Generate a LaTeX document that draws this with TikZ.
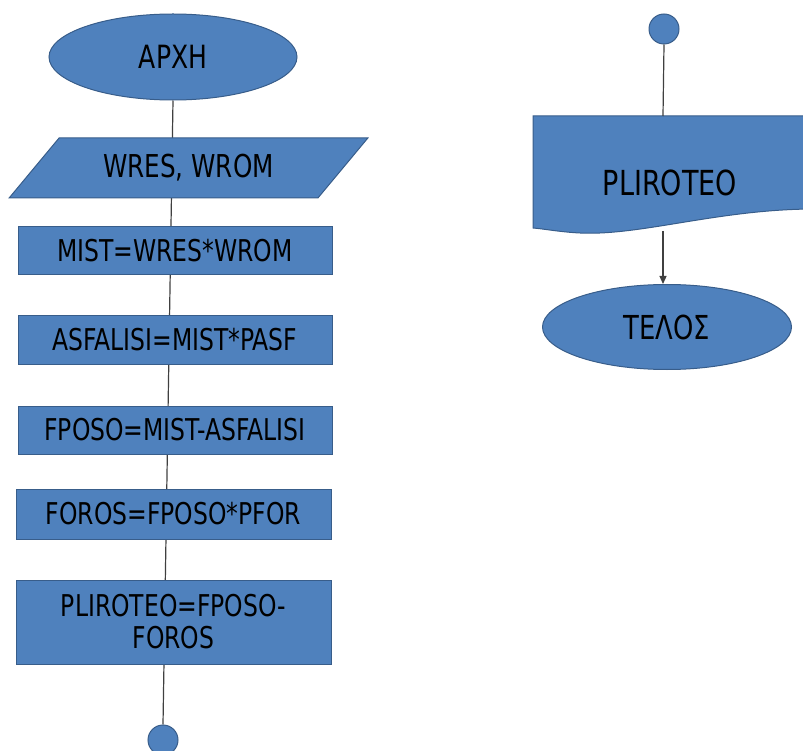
\documentclass[tikz,border=0pt]{standalone}
\usepackage{fontspec}
\setmainfont{DejaVu Sans Condensed}[FakeStretch=0.87]
\usetikzlibrary{shapes.geometric,arrows.meta,backgrounds}
\definecolor{boxfill}{HTML}{4F81BD}
\definecolor{boxline}{HTML}{385D8A}
\tikzset{
  shapebase/.style={draw=boxline, fill=boxfill, line width=1pt, text=black,
    font=\fontsize{30}{32}\selectfont, inner sep=0pt},
  terminal/.style={shapebase, ellipse},
  iobox/.style={shapebase, trapezium, trapezium left angle=39.4, trapezium right angle=140.6,
    trapezium stretches=true},
  procbox/.style={shapebase, rectangle, align=center},
  connector/.style={shapebase, circle, minimum size=30pt},
  flowline/.style={draw=black!75, line width=1.2pt},
}
\begin{document}
\begin{tikzpicture}[x=1pt,y=-1pt]
\useasboundingbox (0,0) rectangle (803,751);
\clip (0,0) rectangle (803,751);
% left column
\node[terminal, minimum width=248pt, minimum height=86pt, font=\fontsize{32}{34}\selectfont] (start) at (173,57) {ΑΡΧΗ};
\node[iobox, minimum width=359pt, minimum height=60pt, font=\fontsize{31.5}{34}\selectfont] (io) at (188.5,168) {WRES, WROM};
\node[procbox, minimum width=314pt, minimum height=48pt] (mist) at (175,251) {MIST=WRES*WROM};
\node[procbox, minimum width=314pt, minimum height=49pt] (asf) at (175,339.5) {ASFALISI=MIST*PASF};
\node[procbox, minimum width=314pt, minimum height=48pt] (fposo) at (175,430) {FPOSO=MIST-ASFALISI};
\node[procbox, minimum width=315pt, minimum height=50pt] (foros) at (173.5,514) {FOROS=FPOSO*PFOR};
\node[procbox, minimum width=315pt, minimum height=84pt] (plir) at (173.5,622) {PLIROTEO=FPOSO-\\FOROS};
\node[connector] (c1) at (163,740) {};
\begin{scope}[on background layer]
  \draw[flowline] (start.south) -- (c1.north);
\end{scope}
% right column
\node[connector] (c2) at (664,29) {};
\draw[shapebase] (533,116) -- (815,116) -- (815,209)
  .. controls (720,209) and (640,236) .. (580,233)
  .. controls (560,232) and (545,229) .. (533,228) -- cycle;
\node[font=\fontsize{34.5}{36}\selectfont, inner sep=0pt] (doc) at (670,183) {PLIROTEO};
\coordinate (doctop) at (663,116);
\coordinate (docbot) at (663,231);
\node[terminal, minimum width=249pt, minimum height=85pt, font=\fontsize{33}{35}\selectfont] (end) at (667,327) {ΤΕΛΟΣ};
\draw[flowline] (c2.south) -- (doctop);
\draw[flowline, -{Triangle[length=8pt,width=7pt]}] (docbot) -- (docbot |- end.north);
\end{tikzpicture}
\end{document}
